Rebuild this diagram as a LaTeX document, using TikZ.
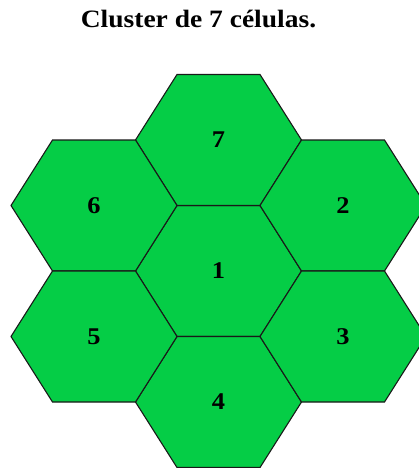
\documentclass[tikz,border=0pt]{standalone}
\usepackage{fontspec}
\setmainfont{Liberation Serif}
\definecolor{cellgreen}{RGB}{5,205,70}
\begin{document}
\begin{tikzpicture}[x=1pt,y=-1pt,
  cell/.style={fill=cellgreen,draw=black!90,line width=1.1pt,line join=miter},
  lab/.style={inner sep=0pt,font=\fontsize{24}{28}\selectfont\bfseries},
  ttl/.style={inner sep=0pt,anchor=base,font=\fontsize{25}{30}\selectfont\bfseries}]
\useasboundingbox (0,0) rectangle (419,468);
\clip (0,0) rectangle (419,468);
\node[ttl] (title) at (198.5,28) {\scalebox{1.1}[1]{Cluster de 7 células.}};
\foreach \n/\cx/\cy in {1/218.5/271, 7/218.5/140, 4/218.5/402, 6/94/205.5, 5/94/336.5, 2/343/205.5, 3/343/336.5}{
  \draw[cell,shift={(\cx,\cy)}] (-83,0) -- (-41.5,-65.5) -- (41.5,-65.5) -- (83,0) -- (41.5,65.5) -- (-41.5,65.5) -- cycle;
  \node[lab] (c\n) at (\cx,\cy) {\scalebox{1.1}[1]{\n}};
}
\end{tikzpicture}
\end{document}
